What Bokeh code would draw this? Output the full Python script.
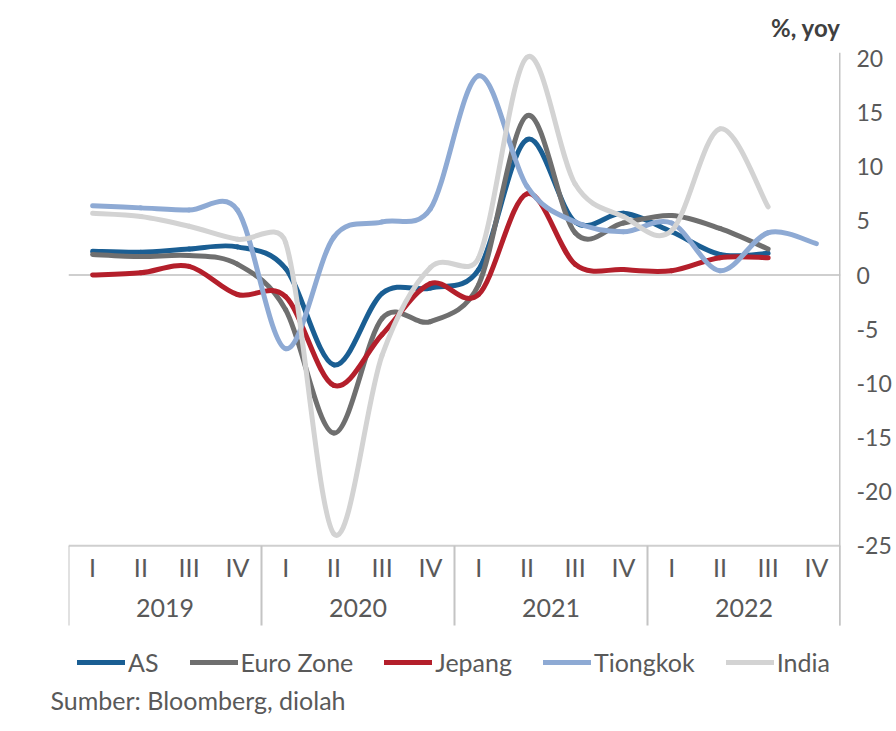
import numpy as np
from bokeh.plotting import figure
from bokeh.models import FactorRange, Range1d, FixedTicker, ColumnDataSource, Title
from bokeh.core.properties import value
from bokeh.embed import file_html
from bokeh.resources import INLINE

# ---------------- data ----------------
years = ["2019", "2020", "2021", "2022"]
quarters = ["I", "II", "III", "IV"]
factors = [(y, q) for y in years for q in quarters]

series_names = ["AS", "Euro Zone", "Jepang", "Tiongkok", "India"]
as_vals = [2.2, 2.1, 2.4, 2.6, 0.6, -8.3, -1.7, -1.2, 0.5, 12.5, 4.9, 5.7, 4.0, 1.9, 2.0]
euro_vals = [1.9, 1.7, 1.8, 1.0, -3.2, -14.6, -4.0, -4.3, -0.9, 14.7, 3.9, 4.8, 5.5, 4.3, 2.4]
jepang_vals = [0.0, 0.2, 0.8, -1.8, -2.0, -10.2, -5.5, -0.8, -1.8, 7.5, 1.0, 0.5, 0.4, 1.6, 1.6]
tiongkok_vals = [6.4, 6.2, 6.0, 6.0, -6.8, 3.5, 4.9, 6.1, 18.4, 8.2, 4.9, 4.0, 4.8, 0.4, 3.9, 2.9]
india_vals = [5.7, 5.4, 4.5, 3.3, 3.0, -23.9, -7.4, 0.7, 1.6, 20.1, 8.4, 5.4, 4.1, 13.5, 6.3]
y_ticks = [-25, -20, -15, -10, -5, 0, 5, 10, 15, 20]
y_tick_labels = ["-25", "-20", "-15", "-10", "-5", "0", "5", "10", "15", "20"]

colors = ["#1a5e93", "#6f6f6f", "#b41f2b", "#8eaad4", "#d3d3d3"]
all_vals = [as_vals, euro_vals, jepang_vals, tiongkok_vals, india_vals]

# ---------------- layout constants ----------------
PX_X, PX_Y = 48.25, 10.844   # approx px per category / per unit, used for smoothing shape
Y_BOTTOM, Y_TOP = -37.45, 20.55
Y_AXIS_FLOOR = -32.38        # where the category box ends


def smooth_source(vals):
    """Excel-like smoothed line as cubic Bezier segments (control points from data)."""
    n = len(vals)
    P = np.array([[i * PX_X, v * PX_Y] for i, v in enumerate(vals)])
    d = {k: [] for k in ["x0", "y0", "x1", "y1", "cx0", "cy0", "cx1", "cy1"]}
    for i in range(n - 1):
        p0 = P[i - 1] if i > 0 else P[i]
        p1, p2 = P[i], P[i + 1]
        p3 = P[i + 2] if i + 2 < n else P[i + 1]
        seg = np.linalg.norm(p2 - p1)
        t1 = (p2 - p0) / 6.0
        t2 = (p3 - p1) / 6.0
        for t in (t1, t2):
            ln = np.linalg.norm(t)
            if ln > 0.5 * seg and ln > 0:
                t *= 0.5 * seg / ln
        d["x0"].append(factors[i])
        d["y0"].append(vals[i])
        d["x1"].append(factors[i + 1])
        d["y1"].append(vals[i + 1])
        d["cx0"].append(factors[i] + (float(t1[0] / PX_X),))
        d["cy0"].append(float((p1[1] + t1[1]) / PX_Y))
        d["cx1"].append(factors[i + 1] + (float(-t2[0] / PX_X),))
        d["cy1"].append(float((p2[1] - t2[1]) / PX_Y))
    return ColumnDataSource(d)


p = figure(
    width=896, height=731,
    x_range=FactorRange(*factors, factor_padding=0, group_padding=0, range_padding=0),
    y_range=Range1d(Y_BOTTOM, Y_TOP),
    y_axis_location="right", x_axis_location=None,
    output_backend="svg", toolbar_location=None,
    min_border_left=68, min_border_right=56, min_border_top=51, min_border_bottom=51,
    outline_line_color=None,
)
p.xgrid.visible = False
p.ygrid.visible = False

# title
p.title.text = "%, yoy"
p.title.align = "right"
p.title.text_font = "Lato"
p.title.text_font_size = "24px"
p.title.text_font_style = "bold"
p.title.text_color = "#404040"
p.title.standoff = 21

# y axis
ax = p.yaxis[0]
ax.ticker = FixedTicker(ticks=y_ticks)
ax.major_label_overrides = {t: lab for t, lab in zip(y_ticks, y_tick_labels)}
ax.axis_line_color = None
ax.major_tick_line_color = None
ax.minor_tick_line_color = None
ax.major_label_text_font = "Lato"
ax.major_label_text_font_size = "23px"
ax.major_label_text_color = "#595959"
ax.major_label_standoff = 10

left_end = ("2019", "I", -0.5)
right_end = ("2022", "IV", 0.5)

# zero line and category axis line
p.segment(x0=[left_end, left_end], y0=[0, -25], x1=[right_end, right_end], y1=[0, -25],
          line_color="#cfcfcf", line_width=2)
# right vertical axis line
p.segment(x0=[right_end], y0=[Y_AXIS_FLOOR], x1=[right_end], y1=[Y_TOP],
          line_color="#c4c4c4", line_width=3)
# year separators
seps = [(y, "I", -0.5) for y in years] + [right_end]
p.segment(x0=seps, y0=[-25] * len(seps), x1=seps, y1=[Y_AXIS_FLOOR] * len(seps),
          line_color="#c4c4c4", line_width=2)

# category labels
p.text(x=factors, y=[-26.94] * len(factors), text=[f[1] for f in factors],
       text_align="center", text_baseline="middle",
       text_font=value("Lato"), text_font_size="25px", text_color="#595959")
p.text(x=years, y=[-30.72] * len(years), text=years,
       text_align="center", text_baseline="middle",
       text_font=value("Lato"), text_font_size="25px", text_color="#595959")

# series
for name, vals, col in zip(series_names, all_vals, colors):
    src = smooth_source(vals)
    p.bezier(x0="x0", y0="y0", x1="x1", y1="y1", cx0="cx0", cy0="cy0", cx1="cx1", cy1="cy1",
             source=src, line_color=col, line_width=5, line_cap="round", legend_label=name)

lg = p.legend[0]
lg.orientation = "horizontal"
lg.location = (9, 3)
lg.margin = 0
lg.padding = 5
lg.spacing = 31
lg.glyph_width = 48
lg.glyph_height = 20
lg.label_standoff = 3
lg.label_text_font = "Lato"
lg.label_text_font_size = "25px"
lg.label_text_color = "#595959"
lg.background_fill_alpha = 0
lg.border_line_color = None

p.add_layout(Title(text="Sumber: Bloomberg, diolah", align="left", offset=-18,
                   text_font="Lato", text_font_size="25px", text_font_style="normal",
                   text_color="#595959", standoff=4), "below")

open("out.html", "w").write(file_html(p, INLINE))
